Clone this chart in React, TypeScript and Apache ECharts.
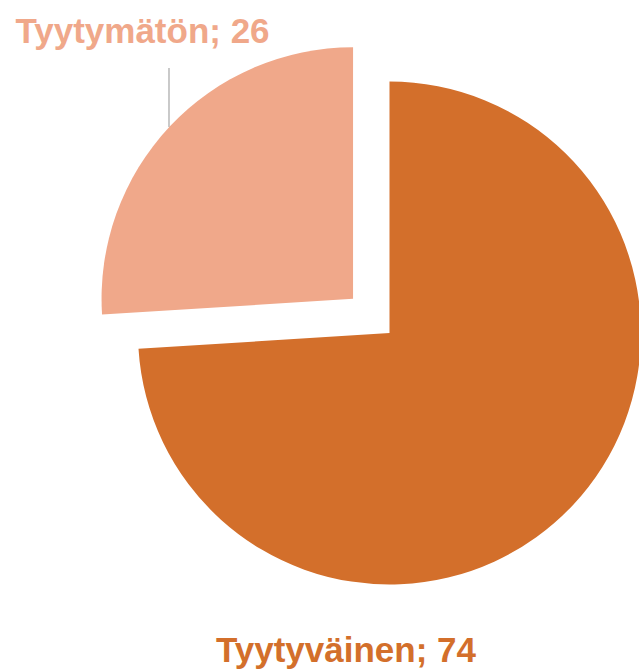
import React, { useEffect, useRef } from "react";
import * as echarts from "echarts";

const categories = ["Tyytyväinen", "Tyytymätön"];
const values = [74, 26];
const colors = ["#D36F2B", "#F0A88A"];
const explodedIndex = 1;

export default function App() {
  const ref = useRef<HTMLDivElement>(null);
  useEffect(() => {
    if (!ref.current) return;
    const chart = echarts.init(ref.current, undefined, { renderer: "svg" });
    const cx = 389.5;
    const cy = 333;
    const r = 251.5;
    const offset = 50;
    const total = values.reduce((a, b) => a + b, 0);
    // mid angle of the exploded slice (clockwise from 12 o'clock)
    let before = 0;
    for (let i = 0; i < explodedIndex; i++) before += values[i];
    const midFrac = (before + values[explodedIndex] / 2) / total;
    const ang = Math.PI / 2 - midFrac * 2 * Math.PI;
    const ox = offset * Math.cos(ang);
    const oy = -offset * Math.sin(ang);

    const makeData = (visibleIdx: number[]) =>
      categories.map((name, i) => {
        const vis = visibleIdx.includes(i);
        return {
          name,
          value: values[i],
          itemStyle: { color: colors[i], opacity: vis ? 1 : 0 },
          label: { show: vis, color: colors[i] },
          labelLine: {
            show: vis && i === explodedIndex,
            lineStyle: { color: "#A6A6A6", width: 1.2 },
          },
        };
      });

    const baseSeries = {
      type: "pie",
      radius: r,
      startAngle: 90,
      clockwise: true,
      silent: true,
      emphasis: { disabled: true },
      label: {
        show: true,
        position: "outside",
        alignTo: "none",
        overflow: "none",
        formatter: "{b}; {c}",
        fontFamily: "Liberation Sans, Arial, sans-serif",
        fontWeight: "bold",
        fontSize: 35,
      },
      labelLine: { show: true, length: 10, length2: 10 },
    };

    chart.setOption({
      animation: false,
      series: [
        {
          ...baseSeries,
          center: [cx, cy],
          data: makeData([0]),
          labelLayout: () => ({
            x: 346,
            y: 649,
            align: "center",
            verticalAlign: "middle",
          }),
        },
        {
          ...baseSeries,
          center: [cx + ox, cy + oy],
          data: makeData([explodedIndex]),
          labelLayout: () => ({
            x: 142.5,
            y: 30,
            align: "center",
            verticalAlign: "middle",
            labelLinePoints: [
              [169, 127],
              [169, 68],
              [169, 68],
            ],
          }),
        },
      ],
    });
    return () => chart.dispose();
  }, []);
  return (
    <div
      ref={ref}
      style={{ position: "fixed", left: 0, top: 0, width: 639, height: 669, background: "#fff" }}
    />
  );
}
